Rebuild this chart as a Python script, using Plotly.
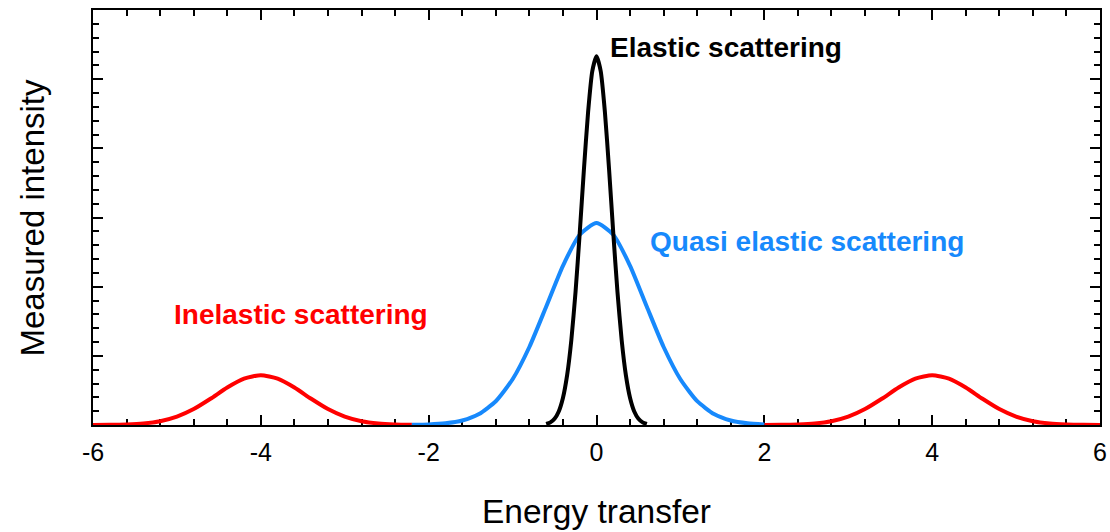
import plotly.graph_objects as go

# ---- data ----
red_left_x = [-6.0, -5.8, -5.6, -5.4, -5.2, -5.0, -4.8, -4.6, -4.4, -4.2, -4.0,
              -3.8, -3.6, -3.4, -3.2, -3.0, -2.8, -2.6, -2.4, -2.2]
red_left_y = [0.001, 0.002, 0.008, 0.022, 0.055, 0.121, 0.230, 0.379, 0.542, 0.670, 0.720,
              0.670, 0.542, 0.379, 0.230, 0.121, 0.055, 0.022, 0.008, 0.002]

red_right_x = [2.0, 2.2, 2.4, 2.6, 2.8, 3.0, 3.2, 3.4, 3.6, 3.8, 4.0,
               4.2, 4.4, 4.6, 4.8, 5.0, 5.2, 5.4, 5.6, 5.8, 6.0]
red_right_y = [0.001, 0.002, 0.008, 0.022, 0.055, 0.121, 0.230, 0.379, 0.542, 0.670, 0.720,
               0.670, 0.542, 0.379, 0.230, 0.121, 0.055, 0.022, 0.008, 0.002, 0.001]

blue_x = [-2.2, -2.0, -1.8, -1.6, -1.4, -1.2, -1.0, -0.8, -0.6, -0.4, -0.2, 0.0,
          0.2, 0.4, 0.6, 0.8, 1.0, 1.2, 1.4, 1.6, 1.8, 2.0]
blue_y = [0.002, 0.008, 0.024, 0.065, 0.159, 0.344, 0.661, 1.128, 1.710, 2.302, 2.751, 2.920,
          2.751, 2.302, 1.710, 1.128, 0.661, 0.344, 0.159, 0.065, 0.024, 0.008]

black_x = [-0.60, -0.55, -0.50, -0.45, -0.40, -0.35, -0.30, -0.25, -0.20, -0.15, -0.10, -0.05, 0.0,
           0.05, 0.10, 0.15, 0.20, 0.25, 0.30, 0.35, 0.40, 0.45, 0.50, 0.55, 0.60]
black_y = [0.015, 0.038, 0.090, 0.196, 0.391, 0.721, 1.227, 1.921, 2.774, 3.692, 4.527, 5.117, 5.330,
           5.117, 4.527, 3.692, 2.774, 1.921, 1.227, 0.721, 0.391, 0.196, 0.090, 0.038, 0.015]

x_tick_vals = [-6, -4, -2, 0, 2, 4, 6]
x_tick_text = ["-6", "-4", "-2", "0", "2", "4", "6"]

labels = ["Elastic scattering", "Quasi elastic scattering", "Inelastic scattering"]
label_x = [1.54, 2.51, -3.52]
label_y = [5.46, 2.65, 1.60]

x_title = "Energy transfer"
y_title = "Measured intensity"

RED = "#ff0000"
BLUE = "#1789fc"
BLACK = "#000000"
FONT = "Arial, Liberation Sans, sans-serif"

fig = go.Figure()
for xs, ys, c in [(red_left_x, red_left_y, RED), (red_right_x, red_right_y, RED),
                  (blue_x, blue_y, BLUE), (black_x, black_y, BLACK)]:
    fig.add_trace(go.Scatter(x=xs, y=ys, mode="lines",
                             line=dict(color=c, width=4, shape="spline", smoothing=0.6),
                             showlegend=False, hoverinfo="skip"))

for t, x, y, c in zip(labels, label_x, label_y, [BLACK, BLUE, RED]):
    fig.add_annotation(x=x, y=y, text="<b>%s</b>" % t, showarrow=False,
                       font=dict(family=FONT, size=28, color=c),
                       xanchor="center", yanchor="middle")

# axis titles
fig.add_annotation(x=0.5, y=-0.208, xref="paper", yref="paper", text=x_title,
                   showarrow=False, xanchor="center", yanchor="middle",
                   font=dict(family=FONT, size=33.5, color="black"))
fig.add_annotation(x=-0.0596, y=0.5, xref="paper", yref="paper", text=y_title,
                   showarrow=False, xanchor="center", yanchor="middle", textangle=-90,
                   font=dict(family=FONT, size=33, color="black"))

axis_common = dict(showgrid=False, zeroline=False, showline=True, linecolor="black",
                   linewidth=2, mirror="allticks", ticks="inside", tickcolor="black",
                   tickwidth=2, layer="below traces", automargin=False)

fig.update_xaxes(range=[-6, 6], tickvals=x_tick_vals, ticktext=x_tick_text, ticklen=10,
                 tickfont=dict(family=FONT, size=25, color="black"), ticklabelstandoff=4,
                 minor=dict(dtick=0.4, tick0=-6, ticklen=6, ticks="inside", tickcolor="black",
                            tickwidth=1.5),
                 **axis_common)
fig.update_yaxes(range=[0, 6], dtick=1, tick0=0, ticklen=10, showticklabels=False,
                 minor=dict(dtick=0.2, tick0=0, ticklen=6, ticks="inside", tickcolor="black",
                            tickwidth=2),
                 **axis_common)

fig.update_layout(width=1110, height=532, margin=dict(l=93, r=10, t=10, b=107),
                  plot_bgcolor="white", paper_bgcolor="white")

fig.write_html("out.html")
